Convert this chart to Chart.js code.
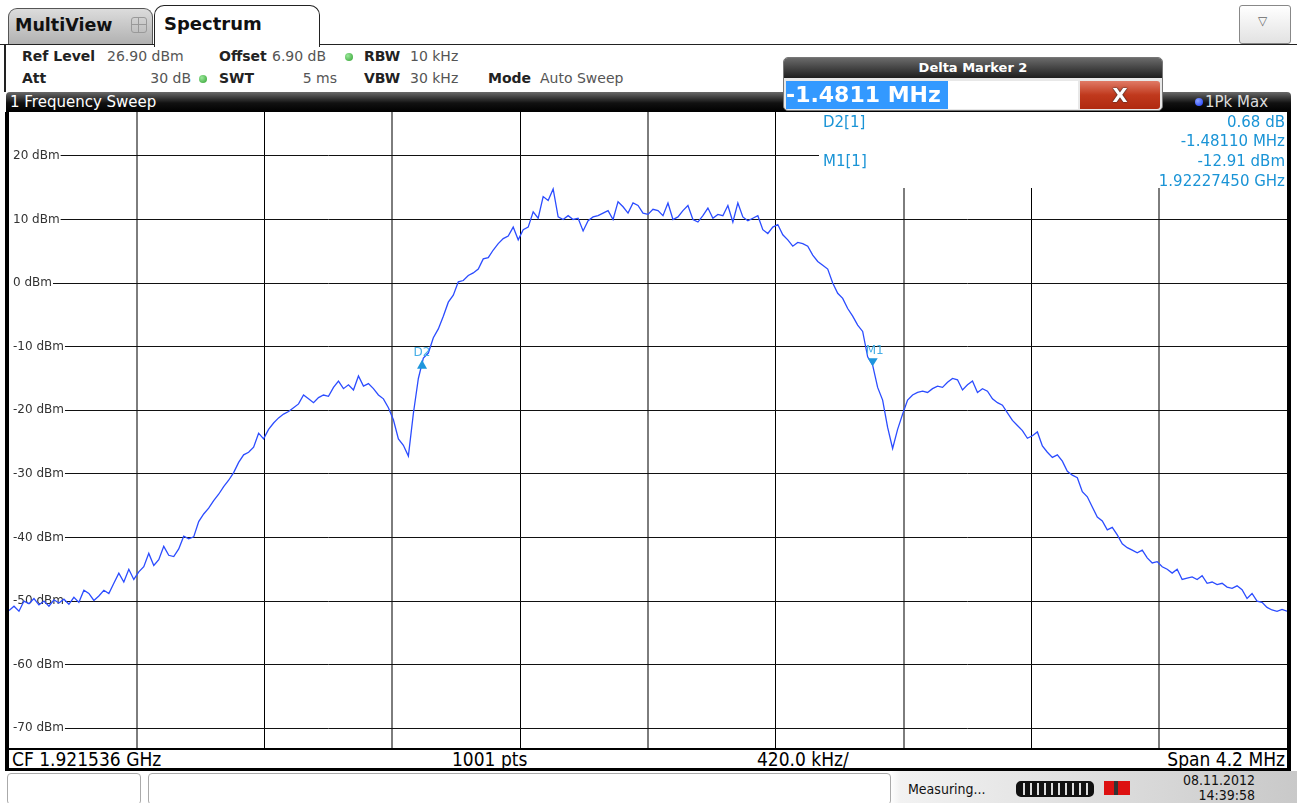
<!DOCTYPE html>
<html>
<head>
<meta charset="utf-8">
<script src="https://cdn.jsdelivr.net/npm/chart.js@4.4.0/dist/chart.umd.min.js"></script>
<style>
  html, body { margin:0; padding:0; background:#fff; width:1297px; height:803px; overflow:hidden; position:relative; font-family:"DejaVu Sans", sans-serif; }
  .abs { position:absolute; white-space:nowrap; }
  .lbl { font-size:14px; font-weight:bold; color:#222; line-height:16px; }
  .val { font-size:14px; color:#555; line-height:16px; }
  .dot { position:absolute; width:8px; height:8px; border-radius:50%; background:radial-gradient(circle at 35% 35%, #9be89b, #2fa02f); }
  .mk { font-size:15px; color:#1a94d6; line-height:18px; }
  .bt { font-family:"Liberation Sans Narrow","DejaVu Sans Condensed",sans-serif; font-size:19px; color:#000; line-height:20px; }
  .st { font-family:"Liberation Sans Narrow","DejaVu Sans Condensed",sans-serif; font-size:14px; color:#111; line-height:15px; }
</style>
</head>
<body>
<!-- tabs -->
<div class="abs" style="left:8px;top:8px;width:143px;height:36px;border:1px solid #555;border-bottom:none;border-radius:9px 9px 0 0;background:linear-gradient(#dcdcdc,#b0b0b0);"></div>
<div class="abs" style="left:15px;top:15px;font-size:17.5px;font-weight:bold;color:#111;">MultiView</div>
<div class="abs" style="left:131px;top:17px;width:14px;height:14px;border:1px solid #999;border-radius:3px;background:
  linear-gradient(#999,#999) 6px 0/1px 14px no-repeat, linear-gradient(#999,#999) 0 6px/14px 1px no-repeat;"></div>
<div class="abs" style="left:0;top:44px;width:1297px;height:0;border-top:1.5px solid #222;"></div>
<div class="abs" style="left:154px;top:5px;width:164px;height:41px;border:1.5px solid #222;border-bottom:none;border-radius:10px 10px 0 0;background:#fff;"></div>
<div class="abs" style="left:164px;top:13px;font-size:18px;font-weight:bold;color:#111;">Spectrum</div>
<div class="abs" style="left:1239px;top:5px;width:50px;height:37px;border:1px solid #888;border-radius:3px;background:linear-gradient(#fff,#e2e2e2);"></div>
<div class="abs" style="left:1258px;top:14px;font-size:12px;color:#666;">▽</div>
<div class="abs" style="left:4px;top:45px;width:1.5px;height:47px;background:#222;"></div>

<!-- info rows -->
<div class="abs lbl" style="left:22px;top:48px;">Ref Level</div>
<div class="abs val" style="left:107px;top:48px;">26.90 dBm</div>
<div class="abs lbl" style="left:219px;top:48px;">Offset</div>
<div class="abs val" style="left:272px;top:48px;">6.90 dB</div>
<div class="dot" style="left:345px;top:53px;"></div>
<div class="abs lbl" style="left:364px;top:48px;">RBW</div>
<div class="abs val" style="left:410px;top:48px;">10 kHz</div>
<div class="abs lbl" style="left:22px;top:70px;">Att</div>
<div class="abs val" style="left:141px;top:70px;width:50px;text-align:right;">30 dB</div>
<div class="dot" style="left:199px;top:75px;"></div>
<div class="abs lbl" style="left:219px;top:70px;">SWT</div>
<div class="abs val" style="left:290px;top:70px;width:47px;text-align:right;">5 ms</div>
<div class="abs lbl" style="left:364px;top:70px;">VBW</div>
<div class="abs val" style="left:410px;top:70px;">30 kHz</div>
<div class="abs lbl" style="left:488px;top:70px;">Mode</div>
<div class="abs val" style="left:540px;top:70px;">Auto Sweep</div>

<!-- header bar -->
<div class="abs" style="left:6px;top:92px;width:1285px;height:20px;border-radius:4px 4px 0 0;background:linear-gradient(#6a6a6a,#111 55%,#000);"></div>
<div class="abs" style="left:10px;top:93px;font-size:15px;color:#fff;line-height:18px;">1 Frequency Sweep</div>
<div class="abs" style="left:1195px;top:98px;width:8px;height:8px;border-radius:50%;background:radial-gradient(circle at 35% 35%,#8fa6ff,#1435ff);"></div>
<div class="abs" style="left:1205px;top:93px;font-size:15px;color:#ddd;line-height:18px;">1Pk Max</div>

<!-- frame -->
<div class="abs" style="left:5px;top:112px;width:4px;height:659px;background:#000;"></div>
<div class="abs" style="left:1287px;top:112px;width:4px;height:659px;background:#000;"></div>
<div class="abs" style="left:5px;top:748px;width:1286px;height:1.5px;background:#000;"></div>
<div class="abs" style="left:5px;top:768px;width:1286px;height:3px;background:#000;"></div>

<canvas id="c" width="1278" height="636" style="position:absolute;left:9px;top:112px;width:1278px;height:636px;"></canvas>

<!-- marker table -->
<div class="abs" style="left:819px;top:112px;width:468px;height:76px;background:#fff;"></div>
<div class="abs mk" style="left:823px;top:113px;">D2[1]</div>
<div class="abs mk" style="left:1085px;top:113px;width:200px;text-align:right;">0.68 dB</div>
<div class="abs mk" style="left:1085px;top:132px;width:200px;text-align:right;">-1.48110 MHz</div>
<div class="abs mk" style="left:823px;top:152px;">M1[1]</div>
<div class="abs mk" style="left:1085px;top:152px;width:200px;text-align:right;">-12.91 dBm</div>
<div class="abs mk" style="left:1085px;top:172px;width:200px;text-align:right;">1.92227450 GHz</div>

<!-- delta marker dialog -->
<div class="abs" style="left:783px;top:57px;width:378px;height:52px;border:1px solid #777;border-radius:5px;background:#e8e8e8;overflow:hidden;">
  <div style="position:absolute;left:0;top:0;width:378px;height:20px;background:linear-gradient(#6a6a6a,#1e1e1e);color:#fff;font-size:13px;font-weight:bold;text-align:center;line-height:20px;">Delta Marker 2</div>
  <div style="position:absolute;left:2px;top:23px;width:292px;height:28px;background:#fff;"></div>
  <div style="position:absolute;left:2px;top:23px;width:162px;height:28px;background:#3399ff;color:#fff;font-size:22px;font-weight:bold;line-height:28px;">-1.4811 MHz</div>
  <div style="position:absolute;left:296px;top:23px;width:80px;height:28px;border-radius:0 3px 3px 0;background:linear-gradient(#e07a66,#c0391d 50%,#b02a10);color:#fff;font-size:20px;font-weight:bold;text-align:center;line-height:28px;text-shadow:0 0 2px #333,0 0 1px #000;">X</div>
</div>

<!-- bottom bar -->
<div class="abs bt" style="left:12px;top:749px;">CF 1.921536 GHz</div>
<div class="abs bt" style="left:452px;top:749px;">1001 pts</div>
<div class="abs bt" style="left:757px;top:749px;">420.0 kHz/</div>
<div class="abs bt" style="left:1085px;top:749px;width:200px;text-align:right;">Span 4.2 MHz</div>

<!-- status bar -->
<div class="abs" style="left:0;top:771px;width:1297px;height:32px;background:linear-gradient(90deg,#fff 0,#fff 890px,#f2f2f2 900px,#c9c9c9 1297px);"></div>
<div class="abs" style="left:7px;top:773px;width:132px;height:30px;border:1px solid #aaa;border-radius:4px;background:#fff;"></div>
<div class="abs" style="left:148px;top:773px;width:741px;height:30px;border:1px solid #aaa;border-radius:4px;background:#fff;"></div>
<div class="abs st" style="left:908px;top:782px;">Measuring...</div>
<div class="abs" style="left:1016px;top:781px;width:78px;height:16px;border-radius:5px;background:repeating-linear-gradient(90deg,#111 0,#111 5px,#ddd 5px,#ddd 7px);border:2px solid #111;box-sizing:border-box;"></div>
<div class="abs" style="left:1104px;top:781px;width:26px;height:14px;background:linear-gradient(90deg,#d11 0,#d11 40%,#333 40%,#333 55%,#d11 55%);"></div>
<div class="abs st" style="left:1175px;top:773px;width:80px;text-align:right;">08.11.2012</div>
<div class="abs st" style="left:1175px;top:788px;width:80px;text-align:right;">14:39:58</div>

<script>
// ---- data ----
const spanMHz = 4.2;                    // span around CF 1.921536 GHz
const yTicks = [20, 10, 0, -10, -20, -30, -40, -50, -60, -70];   // dBm
const xGrid = [-1.68, -1.26, -0.84, -0.42, 0, 0.42, 0.84, 1.26, 1.68]; // MHz offsets
const refLevel = 26.9;
const bottomLevel = -73.1;
const levels = [
 -51.5,-50.8,-51.6,-50.0,-50.4,-49.6,-50.6,-50.0,-50.8,-49.8,
 -50.3,-49.7,-50.5,-49.4,-50.2,-48.3,-48.8,-49.9,-49.2,-48.3,
 -48.8,-47.2,-45.6,-47.0,-45.0,-46.6,-45.4,-44.6,-42.5,-44.4,
 -43.5,-41.4,-42.8,-43.0,-41.8,-39.8,-40.2,-39.9,-37.5,-36.3,
 -35.4,-34.2,-33.2,-32.0,-31.0,-29.8,-28.2,-27.0,-26.6,-25.8,
 -23.6,-24.5,-23.0,-22.0,-21.2,-20.6,-20.2,-19.6,-19.0,-17.6,
 -18.2,-18.8,-18.0,-17.6,-17.8,-16.4,-15.4,-16.6,-16.0,-16.8,
 -14.6,-16.2,-15.8,-16.6,-17.6,-18.2,-19.6,-21.5,-24.5,-25.5,
 -27.2,-20.5,-15.0,-11.8,-11.0,-8.6,-7.2,-5.2,-3.0,-1.9,
 0.2,0.4,1.2,1.6,2.2,3.8,4.0,5.2,6.2,7.0,
 7.4,8.8,6.8,8.4,8.8,11.2,10.2,13.6,13.0,14.8,
 10.4,10.0,10.6,10.0,10.2,8.2,9.8,10.4,10.6,11.0,
 11.4,10.0,12.8,12.0,11.0,12.6,12.2,11.0,10.8,11.6,
 11.4,10.6,12.6,10.0,10.4,11.4,12.2,10.0,9.6,10.6,
 11.8,10.2,10.8,10.6,12.2,9.6,12.6,10.4,9.8,10.2,
 10.6,8.4,7.8,8.8,9.2,7.6,6.8,5.8,6.4,6.2,
 5.8,4.4,3.4,2.8,2.2,0.0,-1.6,-2.4,-4.0,-5.2,
 -6.6,-7.6,-11.6,-12.9,-16.4,-18.4,-22.7,-26.0,-23.0,-20.6,
 -18.4,-17.6,-17.2,-17.0,-17.2,-16.6,-16.2,-16.4,-15.6,-15.0,
 -15.2,-16.8,-16.0,-15.4,-17.2,-16.6,-17.0,-18.2,-18.8,-19.2,
 -20.4,-21.6,-22.4,-23.2,-24.4,-24.0,-23.4,-25.6,-26.6,-27.4,
 -27.0,-28.0,-29.6,-30.2,-30.6,-32.8,-33.6,-35.2,-36.8,-37.4,
 -38.8,-38.4,-39.6,-41.0,-41.6,-42.0,-42.4,-42.0,-43.2,-44.0,
 -43.8,-44.6,-45.0,-45.6,-45.0,-46.6,-46.4,-46.2,-46.6,-46.0,
 -47.2,-47.0,-47.4,-47.2,-47.8,-48.0,-47.6,-48.2,-49.6,-48.8,
 -50.0,-50.2,-51.0,-51.4,-51.6,-51.3,-51.6
];
const markerNames = ['D2', 'M1'];
const markerFreqs = [-0.7426, 0.7385];   // MHz offset from CF
const markerLevels = [-12.23, -12.91];   // dBm
const markerDirs = ['up', 'down'];

const freqs = levels.map((_, i) => -spanMHz / 2 + i * spanMHz / (levels.length - 1));

const markerPlugin = {
  id: 'markers',
  afterDatasetsDraw(chart) {
    const ctx = chart.ctx, xs = chart.scales.x, ys = chart.scales.y;
    ctx.save();
    markerNames.forEach((n, i) => {
      const px = xs.getPixelForValue(markerFreqs[i]);
      const py = ys.getPixelForValue(markerLevels[i]);
      ctx.fillStyle = '#1e96dc';
      ctx.beginPath();
      if (markerDirs[i] === 'up') {
        ctx.moveTo(px, py - 1); ctx.lineTo(px - 5, py + 8); ctx.lineTo(px + 5, py + 8);
      } else {
        ctx.moveTo(px, py + 1); ctx.lineTo(px - 5, py - 7); ctx.lineTo(px + 5, py - 7);
      }
      ctx.closePath(); ctx.fill();
      ctx.font = '12px "DejaVu Sans"';
      ctx.fillStyle = '#45aee6';
      ctx.textAlign = 'center'; ctx.textBaseline = 'bottom';
      ctx.fillText(n, px + (i === 0 ? 0 : 2), markerDirs[i] === 'up' ? py - 2 : py - 8);
    });
    ctx.restore();
  }
};

const zeroPad = s => { s.paddingTop = 0; s.paddingBottom = 0; s.paddingLeft = 0; s.paddingRight = 0; };

new Chart(document.getElementById('c'), {
  type: 'line',
  data: {
    datasets: [{
      data: levels.map((v, i) => ({ x: freqs[i], y: v })),
      borderColor: '#2b4cff',
      borderWidth: 1.3,
      pointRadius: 0,
      tension: 0,
      fill: false
    }]
  },
  options: {
    responsive: false,
    animation: false,
    events: [],
    layout: { padding: 0 },
    plugins: { legend: { display: false }, tooltip: { enabled: false } },
    scales: {
      x: {
        type: 'linear', min: -spanMHz / 2, max: spanMHz / 2,
        afterBuildTicks: s => { s.ticks = xGrid.map(v => ({ value: v })); },
        afterFit: s => { s.height = 0; zeroPad(s); },
        ticks: { display: false },
        border: { display: false },
        grid: {
          drawTicks: false,
          color: c => (c.index % 2 === 0 ? '#7d7d7d' : '#000'),
          lineWidth: c => (c.index % 2 === 0 ? 2 : 1)
        }
      },
      y: {
        min: bottomLevel, max: refLevel,
        afterBuildTicks: s => { s.ticks = yTicks.map(v => ({ value: v })); },
        afterFit: s => { s.width = 0; zeroPad(s); },
        border: { display: false },
        grid: { drawTicks: false, color: '#111', lineWidth: 1 },
        ticks: {
          mirror: true, padding: 4,
          color: '#333',
          font: { family: 'DejaVu Sans', size: 12 },
          showLabelBackdrop: true,
          backdropColor: '#fff',
          backdropPadding: { left: 4, right: 1, top: 0, bottom: 0 },
          callback: v => v + ' dBm'
        }
      }
    }
  },
  plugins: [markerPlugin]
});
</script>
</body>
</html>
